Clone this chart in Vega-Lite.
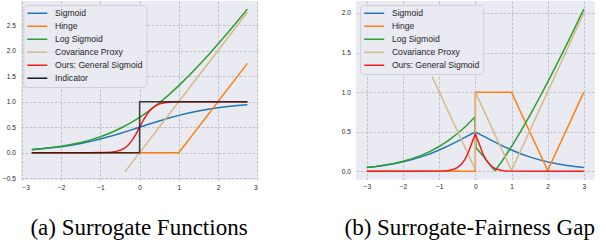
{
  "$schema": "https://vega.github.io/schema/vega-lite/v6.json",
  "padding": {"left": 2, "top": 1, "right": 0, "bottom": 0},
  "background": "white",
  "config": {
    "view": {"fill": "#EAEAF2", "stroke": null},
    "axis": {"domain": false, "ticks": false, "grid": true, "gridColor": "#bcbcc4", "gridDash": [2.6, 1.6], "gridWidth": 0.9, "labelFont": "Liberation Sans", "labelFontSize": 6.6, "labelColor": "#262626", "titleFont": "Liberation Serif", "titleFontSize": 23, "titleFontWeight": "normal", "titleColor": "#000000"},
    "legend": {"symbolType": "stroke", "symbolSize": 400, "symbolStrokeWidth": 1.5, "labelFont": "Liberation Sans", "labelFontSize": 8.6, "labelColor": "#262626", "labelOffset": 6.7, "padding": 3, "rowPadding": 2, "clipHeight": 10.4, "fillColor": "rgba(234,234,242,0.85)", "strokeColor": "#cfcfd6", "cornerRadius": 3, "symbolOffset": 0},
    "line": {"strokeWidth": 1.5}
  },
  "datasets": {
    "a": [
      {"s": "Sigmoid", "x": -2.75, "y": 0.0601}, {"s": "Sigmoid", "x": -2.5, "y": 0.0759}, {"s": "Sigmoid", "x": -2.25, "y": 0.0954}, {"s": "Sigmoid", "x": -2, "y": 0.1192}, {"s": "Sigmoid", "x": -1.75, "y": 0.148}, {"s": "Sigmoid", "x": -1.5, "y": 0.1824}, {"s": "Sigmoid", "x": -1.25, "y": 0.2227}, {"s": "Sigmoid", "x": -1, "y": 0.2689}, {"s": "Sigmoid", "x": -0.75, "y": 0.3208}, {"s": "Sigmoid", "x": -0.5, "y": 0.3775}, {"s": "Sigmoid", "x": -0.25, "y": 0.4378}, {"s": "Sigmoid", "x": 0, "y": 0.5}, {"s": "Sigmoid", "x": 0.25, "y": 0.5622}, {"s": "Sigmoid", "x": 0.5, "y": 0.6225}, {"s": "Sigmoid", "x": 0.75, "y": 0.6792}, {"s": "Sigmoid", "x": 1, "y": 0.7311}, {"s": "Sigmoid", "x": 1.25, "y": 0.7773}, {"s": "Sigmoid", "x": 1.5, "y": 0.8176}, {"s": "Sigmoid", "x": 1.75, "y": 0.852}, {"s": "Sigmoid", "x": 2, "y": 0.8808}, {"s": "Sigmoid", "x": 2.25, "y": 0.9046}, {"s": "Sigmoid", "x": 2.5, "y": 0.9241}, {"s": "Sigmoid", "x": 2.75, "y": 0.9399},
      {"s": "Hinge", "x": -2.75, "y": 0}, {"s": "Hinge", "x": 1, "y": 0}, {"s": "Hinge", "x": 2.75, "y": 1.75},
      {"s": "Log Sigmoid", "x": -2.75, "y": 0.062}, {"s": "Log Sigmoid", "x": -2.5, "y": 0.0789}, {"s": "Log Sigmoid", "x": -2.25, "y": 0.1002}, {"s": "Log Sigmoid", "x": -2, "y": 0.1269}, {"s": "Log Sigmoid", "x": -1.75, "y": 0.1602}, {"s": "Log Sigmoid", "x": -1.5, "y": 0.2014}, {"s": "Log Sigmoid", "x": -1.25, "y": 0.252}, {"s": "Log Sigmoid", "x": -1, "y": 0.3133}, {"s": "Log Sigmoid", "x": -0.75, "y": 0.3869}, {"s": "Log Sigmoid", "x": -0.5, "y": 0.4741}, {"s": "Log Sigmoid", "x": -0.25, "y": 0.5759}, {"s": "Log Sigmoid", "x": 0, "y": 0.6931}, {"s": "Log Sigmoid", "x": 0.25, "y": 0.8259}, {"s": "Log Sigmoid", "x": 0.5, "y": 0.9741}, {"s": "Log Sigmoid", "x": 0.75, "y": 1.1369}, {"s": "Log Sigmoid", "x": 1, "y": 1.3133}, {"s": "Log Sigmoid", "x": 1.25, "y": 1.5019}, {"s": "Log Sigmoid", "x": 1.5, "y": 1.7014}, {"s": "Log Sigmoid", "x": 1.75, "y": 1.9102}, {"s": "Log Sigmoid", "x": 2, "y": 2.1269}, {"s": "Log Sigmoid", "x": 2.25, "y": 2.3502}, {"s": "Log Sigmoid", "x": 2.5, "y": 2.5789}, {"s": "Log Sigmoid", "x": 2.75, "y": 2.812},
      {"s": "Covariance Proxy", "x": -0.375, "y": -0.375}, {"s": "Covariance Proxy", "x": 2.75, "y": 2.75},
      {"s": "Ours: General Sigmoid", "x": -2.75, "y": 0}, {"s": "Ours: General Sigmoid", "x": -2, "y": 0}, {"s": "Ours: General Sigmoid", "x": -1.5, "y": 0.0001}, {"s": "Ours: General Sigmoid", "x": -1.25, "y": 0.0006}, {"s": "Ours: General Sigmoid", "x": -1, "y": 0.0025}, {"s": "Ours: General Sigmoid", "x": -0.9, "y": 0.0045}, {"s": "Ours: General Sigmoid", "x": -0.8, "y": 0.0082}, {"s": "Ours: General Sigmoid", "x": -0.7, "y": 0.0148}, {"s": "Ours: General Sigmoid", "x": -0.6, "y": 0.0266}, {"s": "Ours: General Sigmoid", "x": -0.5, "y": 0.0474}, {"s": "Ours: General Sigmoid", "x": -0.4, "y": 0.0832}, {"s": "Ours: General Sigmoid", "x": -0.3, "y": 0.1419}, {"s": "Ours: General Sigmoid", "x": -0.2, "y": 0.2315}, {"s": "Ours: General Sigmoid", "x": -0.1, "y": 0.3543}, {"s": "Ours: General Sigmoid", "x": 0, "y": 0.5}, {"s": "Ours: General Sigmoid", "x": 0.1, "y": 0.6457}, {"s": "Ours: General Sigmoid", "x": 0.2, "y": 0.7685}, {"s": "Ours: General Sigmoid", "x": 0.3, "y": 0.8581}, {"s": "Ours: General Sigmoid", "x": 0.4, "y": 0.9168}, {"s": "Ours: General Sigmoid", "x": 0.5, "y": 0.9526}, {"s": "Ours: General Sigmoid", "x": 0.6, "y": 0.9734}, {"s": "Ours: General Sigmoid", "x": 0.7, "y": 0.9852}, {"s": "Ours: General Sigmoid", "x": 0.8, "y": 0.9918}, {"s": "Ours: General Sigmoid", "x": 0.9, "y": 0.9955}, {"s": "Ours: General Sigmoid", "x": 1, "y": 0.9975}, {"s": "Ours: General Sigmoid", "x": 1.25, "y": 0.9994}, {"s": "Ours: General Sigmoid", "x": 1.5, "y": 0.9999}, {"s": "Ours: General Sigmoid", "x": 2, "y": 1}, {"s": "Ours: General Sigmoid", "x": 2.75, "y": 1},
      {"s": "Indicator", "x": -2.75, "y": 0, "i": 0}, {"s": "Indicator", "x": 0, "y": 0, "i": 1}, {"s": "Indicator", "x": 0, "y": 1, "i": 2}, {"s": "Indicator", "x": 2.75, "y": 1, "i": 3}
    ],
    "b": [
      {"s": "Sigmoid", "x": -3, "y": 0.0474}, {"s": "Sigmoid", "x": -2.75, "y": 0.0601}, {"s": "Sigmoid", "x": -2.5, "y": 0.0759}, {"s": "Sigmoid", "x": -2.25, "y": 0.0954}, {"s": "Sigmoid", "x": -2, "y": 0.1192}, {"s": "Sigmoid", "x": -1.75, "y": 0.148}, {"s": "Sigmoid", "x": -1.5, "y": 0.1824}, {"s": "Sigmoid", "x": -1.25, "y": 0.2227}, {"s": "Sigmoid", "x": -1, "y": 0.2689}, {"s": "Sigmoid", "x": -0.75, "y": 0.3208}, {"s": "Sigmoid", "x": -0.5, "y": 0.3775}, {"s": "Sigmoid", "x": -0.25, "y": 0.4378}, {"s": "Sigmoid", "x": 0, "y": 0.495}, {"s": "Sigmoid", "x": 0.25, "y": 0.4378}, {"s": "Sigmoid", "x": 0.5, "y": 0.3775}, {"s": "Sigmoid", "x": 0.75, "y": 0.3208}, {"s": "Sigmoid", "x": 1, "y": 0.2689}, {"s": "Sigmoid", "x": 1.25, "y": 0.2227}, {"s": "Sigmoid", "x": 1.5, "y": 0.1824}, {"s": "Sigmoid", "x": 1.75, "y": 0.148}, {"s": "Sigmoid", "x": 2, "y": 0.1192}, {"s": "Sigmoid", "x": 2.25, "y": 0.0954}, {"s": "Sigmoid", "x": 2.5, "y": 0.0759}, {"s": "Sigmoid", "x": 2.75, "y": 0.0601}, {"s": "Sigmoid", "x": 3, "y": 0.0474},
      {"s": "Hinge", "x": -3, "y": 0, "i": 0}, {"s": "Hinge", "x": 0, "y": 0, "i": 1}, {"s": "Hinge", "x": 0, "y": 1, "i": 2}, {"s": "Hinge", "x": 1, "y": 1, "i": 3}, {"s": "Hinge", "x": 2, "y": 0.01, "i": 4}, {"s": "Hinge", "x": 3, "y": 1, "i": 5},
      {"s": "Log Sigmoid", "x": -3, "y": 0.0486}, {"s": "Log Sigmoid", "x": -2.75, "y": 0.062}, {"s": "Log Sigmoid", "x": -2.5, "y": 0.0789}, {"s": "Log Sigmoid", "x": -2.25, "y": 0.1002}, {"s": "Log Sigmoid", "x": -2, "y": 0.1269}, {"s": "Log Sigmoid", "x": -1.75, "y": 0.1602}, {"s": "Log Sigmoid", "x": -1.5, "y": 0.2014}, {"s": "Log Sigmoid", "x": -1.25, "y": 0.252}, {"s": "Log Sigmoid", "x": -1, "y": 0.3133}, {"s": "Log Sigmoid", "x": -0.75, "y": 0.3869}, {"s": "Log Sigmoid", "x": -0.5, "y": 0.4741}, {"s": "Log Sigmoid", "x": -0.25, "y": 0.5759}, {"s": "Log Sigmoid", "x": -0.02, "y": 0.683}, {"s": "Log Sigmoid", "x": 0.02, "y": 0.297}, {"s": "Log Sigmoid", "x": 0.25, "y": 0.1741}, {"s": "Log Sigmoid", "x": 0.5, "y": 0.0259}, {"s": "Log Sigmoid", "x": 0.55, "y": 0.01}, {"s": "Log Sigmoid", "x": 0.75, "y": 0.1369}, {"s": "Log Sigmoid", "x": 1, "y": 0.3133}, {"s": "Log Sigmoid", "x": 1.25, "y": 0.5019}, {"s": "Log Sigmoid", "x": 1.5, "y": 0.7014}, {"s": "Log Sigmoid", "x": 1.75, "y": 0.9102}, {"s": "Log Sigmoid", "x": 2, "y": 1.1269}, {"s": "Log Sigmoid", "x": 2.25, "y": 1.3502}, {"s": "Log Sigmoid", "x": 2.5, "y": 1.5789}, {"s": "Log Sigmoid", "x": 2.75, "y": 1.812}, {"s": "Log Sigmoid", "x": 3, "y": 2.0486},
      {"s": "Covariance Proxy", "x": -1.2, "y": 1.2, "i": 0}, {"s": "Covariance Proxy", "x": 0, "y": 0.02, "i": 1}, {"s": "Covariance Proxy", "x": 0, "y": 1, "i": 2}, {"s": "Covariance Proxy", "x": 1, "y": 0.01, "i": 3}, {"s": "Covariance Proxy", "x": 3, "y": 2, "i": 4},
      {"s": "Ours: General Sigmoid", "x": -3, "y": 0}, {"s": "Ours: General Sigmoid", "x": -2, "y": 0}, {"s": "Ours: General Sigmoid", "x": -1.5, "y": 0.0001}, {"s": "Ours: General Sigmoid", "x": -1, "y": 0.0025}, {"s": "Ours: General Sigmoid", "x": -0.9, "y": 0.0045}, {"s": "Ours: General Sigmoid", "x": -0.8, "y": 0.0082}, {"s": "Ours: General Sigmoid", "x": -0.7, "y": 0.0148}, {"s": "Ours: General Sigmoid", "x": -0.6, "y": 0.0266}, {"s": "Ours: General Sigmoid", "x": -0.5, "y": 0.0474}, {"s": "Ours: General Sigmoid", "x": -0.4, "y": 0.0832}, {"s": "Ours: General Sigmoid", "x": -0.3, "y": 0.1419}, {"s": "Ours: General Sigmoid", "x": -0.2, "y": 0.2315}, {"s": "Ours: General Sigmoid", "x": -0.1, "y": 0.3543}, {"s": "Ours: General Sigmoid", "x": 0, "y": 0.47}, {"s": "Ours: General Sigmoid", "x": 0.1, "y": 0.3543}, {"s": "Ours: General Sigmoid", "x": 0.2, "y": 0.2315}, {"s": "Ours: General Sigmoid", "x": 0.3, "y": 0.1419}, {"s": "Ours: General Sigmoid", "x": 0.4, "y": 0.0832}, {"s": "Ours: General Sigmoid", "x": 0.5, "y": 0.0474}, {"s": "Ours: General Sigmoid", "x": 0.6, "y": 0.0266}, {"s": "Ours: General Sigmoid", "x": 0.7, "y": 0.0148}, {"s": "Ours: General Sigmoid", "x": 0.8, "y": 0.0082}, {"s": "Ours: General Sigmoid", "x": 0.9, "y": 0.0045}, {"s": "Ours: General Sigmoid", "x": 1, "y": 0.0025}, {"s": "Ours: General Sigmoid", "x": 1.5, "y": 0.0001}, {"s": "Ours: General Sigmoid", "x": 2, "y": 0}, {"s": "Ours: General Sigmoid", "x": 3, "y": 0}
    ]
  },
  "spacing": 97,
  "bounds": "flush",
  "resolve": {"scale": {"color": "independent"}, "legend": {"color": "independent"}},
  "hconcat": [
    {
      "width": 237.2,
      "height": 179,
      "data": {"name": "a"},
      "encoding": {
        "x": {"field": "x", "type": "quantitative", "scale": {"domain": [-3.025, 3.025], "nice": false, "zero": false}, "axis": {"values": [-3, -2, -1, 0, 1, 2, 3], "format": "d", "labelPadding": 4, "title": "(a) Surrogate Functions", "titleFont": "Liberation Serif", "titleFontSize": 23, "titleFontWeight": "normal", "titleX": 117.5, "titleY": 54.5, "titleAlign": "center", "titleBaseline": "alphabetic"}},
        "y": {"field": "y", "type": "quantitative", "scale": {"domain": [-0.534, 2.971], "nice": false, "zero": false}, "axis": {"values": [-0.5, 0, 0.5, 1, 1.5, 2, 2.5], "format": ".1f", "labelPadding": 5.5, "title": null}},
        "color": {"field": "s", "type": "nominal", "scale": {"domain": ["Sigmoid", "Hinge", "Log Sigmoid", "Covariance Proxy", "Ours: General Sigmoid", "Indicator"], "range": ["#1f77b4", "#ff7f0e", "#2ca02c", "#d5b986", "#ee1c1c", "#1a1a1a"]}, "legend": {"title": null, "orient": "none", "legendX": 2.3, "legendY": 4}}
      },
      "layer": [
        {"transform": [{"filter": {"field": "s", "equal": "Sigmoid"}}], "mark": {"type": "line"}},
        {"transform": [{"filter": {"field": "s", "equal": "Hinge"}}], "mark": {"type": "line"}},
        {"transform": [{"filter": {"field": "s", "equal": "Log Sigmoid"}}], "mark": {"type": "line"}},
        {"transform": [{"filter": {"field": "s", "equal": "Covariance Proxy"}}], "mark": {"type": "line"}},
        {"transform": [{"filter": {"field": "s", "equal": "Ours: General Sigmoid"}}], "mark": {"type": "line"}},
        {"transform": [{"filter": {"field": "s", "equal": "Indicator"}}], "mark": {"type": "line", "opacity": 0.82}, "encoding": {"order": {"field": "i", "type": "quantitative"}}}
      ]
    },
    {
      "width": 238.7,
      "height": 178.4,
      "data": {"name": "b"},
      "encoding": {
        "x": {"field": "x", "type": "quantitative", "scale": {"domain": [-3.3, 3.3], "nice": false, "zero": false}, "axis": {"values": [-3, -2, -1, 0, 1, 2, 3], "format": "d", "labelPadding": 4, "title": "(b) Surrogate-Fairness Gap", "titleFont": "Liberation Serif", "titleFontSize": 23, "titleFontWeight": "normal", "titleX": 113.2, "titleY": 55.1, "titleAlign": "center", "titleBaseline": "alphabetic"}},
        "y": {"field": "y", "type": "quantitative", "scale": {"domain": [-0.102, 2.151], "nice": false, "zero": false}, "axis": {"values": [0, 0.5, 1, 1.5, 2], "format": ".1f", "labelPadding": 5.5, "title": null}},
        "color": {"field": "s", "type": "nominal", "scale": {"domain": ["Sigmoid", "Hinge", "Log Sigmoid", "Covariance Proxy", "Ours: General Sigmoid"], "range": ["#1f77b4", "#ff7f0e", "#2ca02c", "#d5b986", "#ee1c1c"]}, "legend": {"title": null, "orient": "none", "legendX": 4.2, "legendY": 4}}
      },
      "layer": [
        {"transform": [{"filter": {"field": "s", "equal": "Sigmoid"}}], "mark": {"type": "line"}},
        {"transform": [{"filter": {"field": "s", "equal": "Hinge"}}], "mark": {"type": "line"}, "encoding": {"order": {"field": "i", "type": "quantitative"}}},
        {"transform": [{"filter": {"field": "s", "equal": "Log Sigmoid"}}], "mark": {"type": "line"}},
        {"transform": [{"filter": {"field": "s", "equal": "Covariance Proxy"}}], "mark": {"type": "line"}, "encoding": {"order": {"field": "i", "type": "quantitative"}}},
        {"transform": [{"filter": {"field": "s", "equal": "Ours: General Sigmoid"}}], "mark": {"type": "line"}}
      ]
    }
  ]
}
